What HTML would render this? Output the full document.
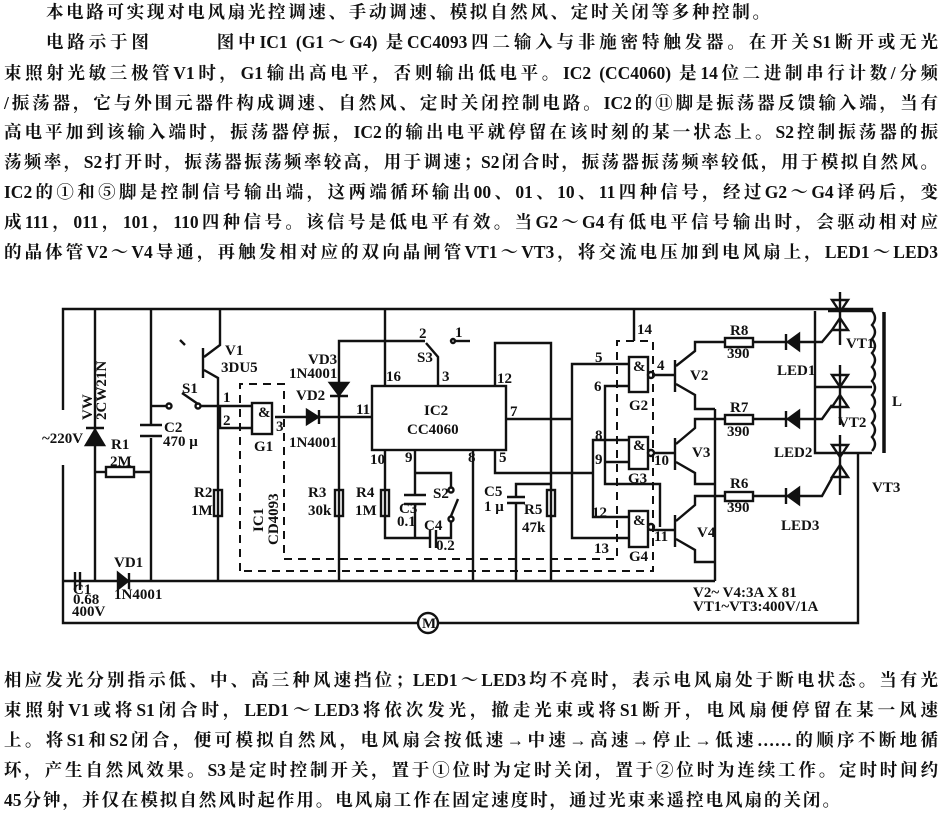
<!DOCTYPE html>
<html><head><meta charset="utf-8"><style>
body{margin:0;width:942px;height:821px;background:#fff;overflow:hidden;position:relative;font-family:"Liberation Serif","Noto Serif CJK SC",serif;color:#111}
.l{position:absolute;left:4px;width:934px;font-size:17.5px;line-height:22px;white-space:nowrap;text-align:justify;text-align-last:justify;font-weight:bold;font-family:"Liberation Serif","Noto Serif CJK SC",serif}
svg{position:absolute;left:0;top:0}
svg text{font-family:"Liberation Serif",serif;font-weight:bold;font-size:15px;fill:#111}
</style></head><body>
<div class="l" style="top:1px;left:46px;width:724px">本电路可实现对电风扇光控调速、手动调速、模拟自然风、定时关闭等多种控制。</div>
<div class="l" style="top:31px;left:46px;width:892px">电路示于图　　　图中IC1 (G1～G4) 是CC4093四二输入与非施密特触发器。在开关S1断开或无光</div>
<div class="l" style="top:62px">束照射光敏三极管V1时，G1输出高电平，否则输出低电平。IC2 (CC4060) 是14位二进制串行计数/分频</div>
<div class="l" style="top:92px">/振荡器，它与外围元器件构成调速、自然风、定时关闭控制电路。IC2的⑪脚是振荡器反馈输入端，当有</div>
<div class="l" style="top:121px">高电平加到该输入端时，振荡器停振，IC2的输出电平就停留在该时刻的某一状态上。S2控制振荡器的振</div>
<div class="l" style="top:151px">荡频率，S2打开时，振荡器振荡频率较高，用于调速；S2闭合时，振荡器振荡频率较低，用于模拟自然风。</div>
<div class="l" style="top:181px">IC2的①和⑤脚是控制信号输出端，这两端循环输出00、01、10、11四种信号，经过G2～G4译码后，变</div>
<div class="l" style="top:211px">成111，011，101，110四种信号。该信号是低电平有效。当G2～G4有低电平信号输出时，会驱动相对应</div>
<div class="l" style="top:241px">的晶体管V2～V4导通，再触发相对应的双向晶闸管VT1～VT3，将交流电压加到电风扇上，LED1～LED3</div>
<div class="l" style="top:669px">相应发光分别指示低、中、高三种风速挡位；LED1～LED3均不亮时，表示电风扇处于断电状态。当有光</div>
<div class="l" style="top:699px">束照射V1或将S1闭合时，LED1～LED3将依次发光，撤走光束或将S1断开，电风扇便停留在某一风速</div>
<div class="l" style="top:729px">上。将S1和S2闭合，便可模拟自然风，电风扇会按低速→中速→高速→停止→低速……的顺序不断地循</div>
<div class="l" style="top:759px">环，产生自然风效果。S3是定时控制开关，置于①位时为定时关闭，置于②位时为连续工作。定时时间约</div>
<div class="l" style="top:789px;width:836px">45分钟，并仅在模拟自然风时起作用。电风扇工作在固定速度时，通过光束来遥控电风扇的关闭。</div>

<svg width="942" height="821" viewBox="0 0 942 821">
<g stroke="#111" stroke-width="2.4" fill="none">
<polyline points="63,410 63,309 872,309 872,311"/>
<polyline points="63,465 63,623 418,623"/>
<polyline points="438,623 858,623 858,453"/>
<circle cx="428" cy="623" r="10"/>
<line x1="63" y1="581" x2="715" y2="581"/>
<line x1="95" y1="309" x2="95" y2="581"/>
<polygon points="86,445 104,445 95,430" fill="#111"/>
<line x1="86" y1="428" x2="104" y2="428"/>
<polyline points="95,472 106,472"/><rect x="106" y="467" width="28" height="10"/><polyline points="134,472 151,472"/>
<line x1="151" y1="309" x2="151" y2="425"/><line x1="151" y1="438" x2="151" y2="581"/>
<line x1="140" y1="425" x2="162" y2="425"/><line x1="140" y1="436" x2="162" y2="436"/>
<line x1="151" y1="406" x2="166" y2="406"/>
<circle cx="169" cy="406" r="2.5"/><circle cx="198" cy="406" r="2.5"/>
<line x1="182" y1="393" x2="198" y2="404"/>
<line x1="200" y1="406" x2="252" y2="406"/>
<line x1="203" y1="348" x2="203" y2="378"/>
<polyline points="204,357 220,345 220,309"/>
<polyline points="204,370 218,378 218,581"/>
<rect x="214" y="490" width="8" height="26"/>
<line x1="185" y1="345" x2="180" y2="340"/>
<polyline points="220,406 220,428 252,428"/>
<rect x="252" y="403" width="20" height="31"/>
<line x1="275" y1="417" x2="372" y2="417"/>
<polygon points="307,410 307,424 318,417" fill="#111"/><line x1="319" y1="410" x2="319" y2="424"/>
<polyline points="425,341 339,341 339,581"/>
<polygon points="330,383 348,383 339,395" fill="#111"/><line x1="330" y1="396" x2="348" y2="396"/>
<rect x="335" y="490" width="8" height="26"/>
<rect x="372" y="386" width="134" height="64"/>
<line x1="385" y1="309" x2="385" y2="386"/>
<polyline points="438,386 438,357 426,343"/>
<circle cx="453" cy="341" r="2"/><line x1="455" y1="341" x2="470" y2="341"/>
<polyline points="495,386 495,343 551,343 551,581"/>
<rect x="547" y="490" width="8" height="26"/>
<polyline points="506,419 572,419"/>
<polyline points="628,364 572,364 572,538 628,538"/>
<line x1="473" y1="450" x2="473" y2="581"/>
<polyline points="495,450 495,473 593,473"/>
<polyline points="628,440 593,440 593,517 628,517"/>
<polyline points="628,386 605,386 605,484 660,484 660,527"/>
<line x1="605" y1="462" x2="628" y2="462"/>
<polyline points="385,450 385,538 430,538"/>
<rect x="381" y="490" width="8" height="26"/>
<polyline points="415,450 415,495"/><polyline points="415,505 415,538"/>
<line x1="404" y1="495" x2="426" y2="495"/><line x1="404" y1="504" x2="426" y2="504"/>
<polyline points="415,473 451,473 451,488"/>
<circle cx="451" cy="490" r="2.5"/><circle cx="451" cy="519" r="2.5"/>
<line x1="458" y1="499" x2="451" y2="516"/>
<polyline points="451,522 451,538 435,538"/>
<line x1="430" y1="530" x2="430" y2="548"/><line x1="436" y1="530" x2="436" y2="548"/>
<polyline points="551,484 516,484 516,497"/><line x1="507" y1="497" x2="525" y2="497"/><line x1="507" y1="503" x2="525" y2="503"/><line x1="516" y1="503" x2="516" y2="581"/>
<rect x="629" y="357" width="19" height="35"/><circle cx="651" cy="375" r="3"/>
<rect x="629" y="437" width="19" height="32"/><circle cx="651" cy="453" r="3"/>
<rect x="629" y="511" width="19" height="36"/><circle cx="651" cy="527" r="3"/>
<line x1="634" y1="309" x2="634" y2="341"/>
<line x1="654" y1="375" x2="675" y2="375"/><line x1="675" y1="360" x2="675" y2="392"/>
<polyline points="676,366 695,351 695,342 725,342"/><polyline points="676,384 695,395 695,409 715,409"/>
<line x1="654" y1="453" x2="675" y2="453"/><line x1="675" y1="438" x2="675" y2="470"/>
<polyline points="676,444 695,428 695,419 725,419"/><polyline points="676,462 695,473 695,484 715,484"/>
<line x1="654" y1="530" x2="675" y2="530"/><line x1="675" y1="515" x2="675" y2="547"/>
<polyline points="676,521 695,505 695,496 725,496"/><polyline points="676,539 695,550 695,562 715,562"/>
<line x1="715" y1="409" x2="715" y2="581"/>
<rect x="725" y="338" width="28" height="9"/><rect x="725" y="415" width="28" height="9"/><rect x="725" y="492" width="28" height="9"/>
<line x1="753" y1="342" x2="788" y2="342"/><line x1="753" y1="419" x2="788" y2="419"/><line x1="753" y1="496" x2="788" y2="496"/>
<polygon points="788,342 799,334 799,350" fill="#111"/><line x1="786" y1="334" x2="786" y2="350"/>
<polygon points="788,419 799,411 799,427" fill="#111"/><line x1="786" y1="411" x2="786" y2="427"/>
<polygon points="788,496 799,488 799,504" fill="#111"/><line x1="786" y1="488" x2="786" y2="504"/>
<polyline points="799,342 822,342 832,330"/><polyline points="799,419 822,419 832,405"/><polyline points="799,496 822,496 832,478"/>
<polyline points="815,311 815,453 840,453"/>
<line x1="815" y1="387" x2="840" y2="387"/>
<line x1="828" y1="311" x2="872" y2="311"/>
<line x1="840" y1="292" x2="840" y2="345"/>
<polygon points="832,300 848,300 840,312"/><polygon points="832,330 848,330 840,318"/>
<line x1="840" y1="365" x2="840" y2="425"/>
<polygon points="832,375 848,375 840,387"/><polygon points="832,407 848,407 840,395"/>
<line x1="840" y1="435" x2="840" y2="495"/>
<polygon points="832,445 848,445 840,457"/><polygon points="832,477 848,477 840,465"/>
<line x1="840" y1="387" x2="872" y2="387"/>
<line x1="840" y1="453" x2="872" y2="453"/>
<path d="M872,311 q6,7 0,14 q6,7 0,14 q6,7 0,14 q6,7 0,14 q6,7 0,14 q6,7 0,14 q6,7 0,14 q6,7 0,14 q6,7 0,14 q6,7 0,14"/>
<line x1="884" y1="312" x2="884" y2="453" stroke-width="3.5"/>
<line x1="75" y1="572" x2="75" y2="590"/><line x1="80" y1="572" x2="80" y2="590"/>
<polygon points="118,573 118,589 128,581" fill="#111"/><line x1="129" y1="573" x2="129" y2="589"/>
</g>
<g stroke="#111" stroke-width="2" fill="none" stroke-dasharray="8,6">
<polyline points="240,571 240,384 284,384 284,559 617,559 617,341 653,341 653,571 240,571"/>
</g>
<text x="42" y="443">~220V</text>
<text x="92" y="420" transform="rotate(-90 92 420)" font-size="13">VW</text>
<text x="106" y="420" transform="rotate(-90 106 420)" font-size="13">2CW21N</text>
<text x="111" y="449">R1</text><text x="110" y="466">2M</text>
<text x="164" y="432">C2</text><text x="163" y="446">470 μ</text>
<text x="182" y="393">S1</text>
<text x="225" y="355">V1</text><text x="221" y="372">3DU5</text>
<text x="223" y="402" font-size="13">1</text><text x="223" y="425" font-size="13">2</text><text x="276" y="431" font-size="13">3</text>
<text x="258" y="417" font-size="11">&amp;</text><text x="254" y="451">G1</text>
<text x="263" y="532" transform="rotate(-90 263 532)">IC1</text><text x="278" y="545" transform="rotate(-90 278 545)">CD4093</text>
<text x="194" y="497">R2</text><text x="191" y="515">1M</text>
<text x="308" y="364">VD3</text><text x="289" y="378">1N4001</text>
<text x="296" y="400">VD2</text><text x="289" y="447">1N4001</text>
<text x="308" y="497">R3</text><text x="308" y="515">30k</text>
<text x="356" y="414" font-size="13">11</text><text x="386" y="381" font-size="13">16</text><text x="442" y="381" font-size="13">3</text>
<text x="417" y="362">S3</text><text x="419" y="338" font-size="13">2</text><text x="455" y="337" font-size="13">1</text>
<text x="424" y="415" font-size="18">IC2</text><text x="407" y="434" font-size="17">CC4060</text>
<text x="497" y="383" font-size="13">12</text><text x="510" y="416" font-size="13">7</text>
<text x="468" y="462" font-size="13">8</text><text x="499" y="462" font-size="13">5</text>
<text x="370" y="464" font-size="13">10</text><text x="405" y="462" font-size="13">9</text>
<text x="356" y="497">R4</text><text x="355" y="515">1M</text>
<text x="399" y="513">C3</text><text x="397" y="526">0.1</text>
<text x="433" y="498">S2</text><text x="424" y="530">C4</text><text x="436" y="550">0.2</text>
<text x="484" y="496">C5</text><text x="484" y="511">1 μ</text>
<text x="524" y="514">R5</text><text x="522" y="532">47k</text>
<text x="595" y="362" font-size="13">5</text><text x="594" y="391" font-size="13">6</text>
<text x="595" y="440" font-size="13">8</text><text x="595" y="464" font-size="13">9</text>
<text x="592" y="517" font-size="13">12</text><text x="594" y="553" font-size="13">13</text>
<text x="637" y="334" font-size="13">14</text>
<text x="657" y="370" font-size="13">4</text><text x="654" y="465" font-size="13">10</text><text x="654" y="541" font-size="13">11</text>
<text x="633" y="371" font-size="11">&amp;</text><text x="629" y="410">G2</text>
<text x="633" y="450" font-size="11">&amp;</text><text x="628" y="483">G3</text>
<text x="633" y="525" font-size="11">&amp;</text><text x="629" y="561">G4</text>
<text x="690" y="380">V2</text><text x="692" y="457">V3</text><text x="697" y="537">V4</text>
<text x="730" y="335">R8</text><text x="727" y="358">390</text>
<text x="730" y="412">R7</text><text x="727" y="436">390</text>
<text x="730" y="488">R6</text><text x="727" y="512">390</text>
<text x="777" y="375">LED1</text><text x="774" y="457">LED2</text><text x="781" y="530">LED3</text>
<text x="846" y="348">VT1</text><text x="838" y="427">VT2</text><text x="872" y="492">VT3</text>
<text x="892" y="406">L</text>
<text x="693" y="597" font-size="13">V2~ V4:3A X 81</text>
<text x="693" y="611" font-size="13">VT1~VT3:400V/1A</text>
<text x="73" y="594">C1</text><text x="73" y="604" font-size="13">0.68</text><text x="72" y="616" font-size="13">400V</text>
<text x="114" y="567">VD1</text><text x="114" y="599">1N4001</text>
<text x="422" y="628" font-size="13">M</text>
</svg>
</body></html>
